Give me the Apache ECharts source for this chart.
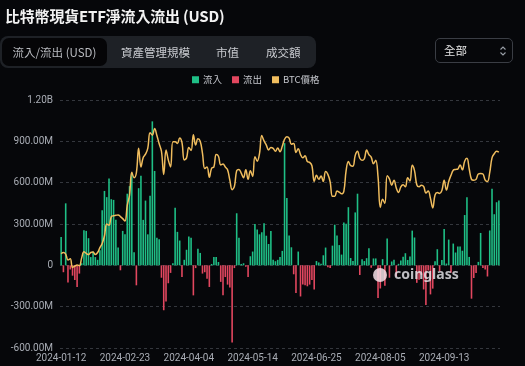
<!DOCTYPE html>
<html>
<head>
<meta charset="utf-8">
<script src="https://cdn.jsdelivr.net/npm/echarts@6/dist/echarts.min.js"></script>
<style>
  html, body { margin:0; padding:0; background:#06070a; width:525px; height:366px; overflow:hidden; }
  body { font-family: "Noto Sans CJK TC", "Noto Sans", sans-serif; }
  #chart { position:absolute; left:0; top:0; width:525px; height:366px; }
  .title { position:absolute; left:5px; top:5px; color:#f2f2f2; font-size:15px; font-weight:bold; white-space:nowrap; letter-spacing:-0.2px; }
  .tabs { position:absolute; left:0; top:36px; width:316px; height:32px; background:#1e2126; border-radius:8px; }
  .tab { position:absolute; top:0; height:32px; line-height:32px; font-size:11.5px; color:#c9cbd0; white-space:nowrap; }
  .tab.active { left:2px; top:2px; width:105px; height:28px; line-height:28px; background:#050507; border-radius:7px; color:#b9bbc0; text-align:center; }
  .select { position:absolute; left:435px; top:38px; width:78px; height:25px; border:1px solid #3a3d44; border-radius:5px; box-sizing:border-box; }
  .select span { position:absolute; left:8px; top:0; line-height:23px; font-size:11.5px; color:#e6e6e6; }
  .select svg { position:absolute; left:63px; top:6px; }
</style>
</head>
<body>
<div id="chart"></div>
<div class="title">比特幣現貨ETF淨流入流出 (USD)</div>
<div class="tabs">
  <div class="tab active">流入/流出 (USD)</div>
  <div class="tab" style="left:121px">資產管理規模</div>
  <div class="tab" style="left:216px">市值</div>
  <div class="tab" style="left:266px">成交額</div>
</div>
<div class="select"><span>全部</span>
  <svg width="8" height="12" viewBox="0 0 8 12"><path d="M1.5 4.5 L4 2 L6.5 4.5 M1.5 7.5 L4 10 L6.5 7.5" stroke="#9aa0a8" stroke-width="1.1" fill="none"/></svg>
</div>
<script>
const dates = [
'2024-01-12','2024-01-16','2024-01-17','2024-01-18','2024-01-19','2024-01-22','2024-01-23','2024-01-24','2024-01-25','2024-01-26','2024-01-29','2024-01-30','2024-01-31',
'2024-02-01','2024-02-02','2024-02-05','2024-02-06','2024-02-07','2024-02-08','2024-02-09','2024-02-12','2024-02-13','2024-02-14','2024-02-15','2024-02-16','2024-02-20','2024-02-21','2024-02-22','2024-02-23','2024-02-26','2024-02-27','2024-02-28','2024-02-29',
'2024-03-01','2024-03-04','2024-03-05','2024-03-06','2024-03-07','2024-03-08','2024-03-11','2024-03-12','2024-03-13','2024-03-14','2024-03-15','2024-03-18','2024-03-19','2024-03-20','2024-03-21','2024-03-22','2024-03-25','2024-03-26','2024-03-27','2024-03-28',
'2024-04-01','2024-04-02','2024-04-03','2024-04-04','2024-04-05','2024-04-08','2024-04-09','2024-04-10','2024-04-11','2024-04-12','2024-04-15','2024-04-16','2024-04-17','2024-04-18','2024-04-19','2024-04-22','2024-04-23','2024-04-24','2024-04-25','2024-04-26','2024-04-29','2024-04-30',
'2024-05-01','2024-05-02','2024-05-03','2024-05-06','2024-05-07','2024-05-08','2024-05-09','2024-05-10','2024-05-13','2024-05-14','2024-05-15','2024-05-16','2024-05-17','2024-05-20','2024-05-21','2024-05-22','2024-05-23','2024-05-24','2024-05-28','2024-05-29','2024-05-30','2024-05-31',
'2024-06-03','2024-06-04','2024-06-05','2024-06-06','2024-06-07','2024-06-10','2024-06-11','2024-06-12','2024-06-13','2024-06-14','2024-06-17','2024-06-18','2024-06-20','2024-06-21','2024-06-24','2024-06-25','2024-06-26','2024-06-27','2024-06-28',
'2024-07-01','2024-07-02','2024-07-03','2024-07-05','2024-07-08','2024-07-09','2024-07-10','2024-07-11','2024-07-12','2024-07-15','2024-07-16','2024-07-17','2024-07-18','2024-07-19','2024-07-22','2024-07-23','2024-07-24','2024-07-25','2024-07-26','2024-07-29','2024-07-30','2024-07-31',
'2024-08-01','2024-08-02','2024-08-05','2024-08-06','2024-08-07','2024-08-08','2024-08-09','2024-08-12','2024-08-13','2024-08-14','2024-08-15','2024-08-16','2024-08-19','2024-08-20','2024-08-21','2024-08-22','2024-08-23','2024-08-26','2024-08-27','2024-08-28','2024-08-29','2024-08-30',
'2024-09-03','2024-09-04','2024-09-05','2024-09-06','2024-09-09','2024-09-10','2024-09-11','2024-09-12','2024-09-13','2024-09-16','2024-09-17','2024-09-18','2024-09-19','2024-09-20','2024-09-23','2024-09-24','2024-09-25','2024-09-26','2024-09-27','2024-09-30',
'2024-10-01','2024-10-02','2024-10-03','2024-10-04','2024-10-07','2024-10-08','2024-10-09','2024-10-10','2024-10-11','2024-10-14','2024-10-15','2024-10-16','2024-10-17'
];

// Net flow, millions of USD
const netFlowM = [
205,-50,450,-125,-30,-75,-106,-158,-60,15,255,250,197,
60,100,60,40,110,400,540,495,630,480,475,330,130,-36,250,225,520,575,670,95,
-145,560,650,330,470,225,505,1045,685,200,190,-90,-326,-262,-130,-55,15,418,243,180,
-85,40,113,210,200,-218,-20,121,90,-60,-50,-97,-157,10,60,60,24,-120,-218,-85,-140,-160,
-560,-20,378,200,10,15,-10,-85,66,100,300,260,225,240,305,215,155,250,40,30,40,60,
105,887,488,217,131,-65,-200,100,-226,-140,-145,-152,-140,-106,-175,31,21,12,73,
129,-14,-20,143,295,216,147,78,310,301,422,53,31,384,520,-70,44,31,52,124,-18,50,
50,-237,-168,45,-148,195,-90,28,40,-81,11,35,62,88,39,64,252,202,-127,-105,-71,-175,
-288,-37,-211,-169,29,117,-43,39,263,13,187,-53,158,93,136,136,106,365,495,61,
-242,-92,-55,25,235,-19,-30,-81,253,555,371,458,470
];

// BTC price, USD
const btcPrice = [
42800,43100,42700,41300,41600,39500,39800,40100,39900,41800,43300,42900,42600,
43100,43200,42600,43100,44300,45300,47100,50000,49700,51800,52000,52100,52200,51800,51300,50700,54500,57000,62500,61200,
62400,68300,63800,66100,66900,68300,72100,71500,73100,71400,69400,67600,62000,67900,65500,63800,69900,69900,69500,70800,
69700,65500,66000,68500,67800,71600,69100,70600,70000,67100,63400,63800,61300,63500,63800,66800,66400,64300,64500,63800,63100,60600,
58300,59100,62900,63200,62300,61200,63100,60800,62900,61500,66300,65200,67000,71400,70100,69100,67900,68500,68300,67600,68400,67500,
68800,70500,71100,70800,69300,69500,67300,68200,66800,66000,66500,65100,64900,64100,60300,61800,60800,61600,60300,
62700,62000,60200,56700,56700,58000,57700,57300,57900,62900,65100,64100,64000,66600,67600,65900,65400,65800,67900,66800,66200,64600,
65400,61400,54000,56000,55000,61700,60900,59400,60600,58700,57600,59000,59500,59000,61200,60400,64200,62900,59500,59000,59400,59100,
57500,58000,56200,53900,57000,57600,57400,58100,60600,58200,60300,61800,63000,63200,63300,64300,63100,65200,65900,63300,
60800,60600,60800,62100,62200,62100,60600,60300,62500,66000,67000,67600,67400
];

const legendNames = ['流入', '流出', 'BTC價格'];
const yTicks = { min: -600, max: 1200, interval: 300 };

const inflow = netFlowM.map(v => v >= 0 ? v : '-');
const outflow = netFlowM.map(v => v < 0 ? v : '-');

function fmt(v) {
  if (v === 0) return '0';
  if (Math.abs(v) >= 1000) return (v / 1000).toFixed(2) + 'B';
  return v.toFixed(2) + 'M';
}

const chart = echarts.init(document.getElementById('chart'));
chart.setOption({
  backgroundColor: 'transparent',
  animation: false,
  legend: {
    data: legendNames,
    left: 187, top: 70,
    icon: 'rect', itemWidth: 7, itemHeight: 7, itemGap: 10,
    textStyle: { color: '#c4c6cc', fontSize: 9.5, fontFamily: 'Noto Sans CJK TC, Noto Sans, sans-serif', padding: [0,0,0,-1] }
  },
  grid: { left: 60, right: 25, top: 100, bottom: 18 },
  xAxis: {
    type: 'category',
    data: dates,
    boundaryGap: true,
    axisLine: { show: false, onZero: false },
    axisTick: { show: false },
    axisLabel: { interval: 27, color: '#a9adb5', fontSize: 10, fontFamily: 'Roboto', margin: 5 }
  },
  yAxis: [{
    type: 'value',
    min: yTicks.min, max: yTicks.max, interval: yTicks.interval,
    axisLine: { show: false }, axisTick: { show: false },
    axisLabel: { color: '#a9adb5', fontSize: 10, fontFamily: 'Roboto', margin: 7, formatter: fmt },
    splitLine: { lineStyle: { color: '#34373d', type: [3, 3], width: 1 } }
  }, {
    type: 'value', min: 20000, max: 80000, show: false, splitLine: { show: false }
  }],
  graphic: [{
    type: 'circle', left: 373, top: 268, shape: { r: 7 },
    style: { fill: 'rgba(245,225,232,0.85)' }, z: 100
  }, {
    type: 'text', left: 394, top: 268,
    style: { text: 'coinglass', fill: 'rgba(235,235,240,0.8)', font: 'bold 14px "Noto Sans", sans-serif' }, z: 100
  }],
  series: [{
    name: '流入', type: 'bar', data: inflow, barGap: '-100%', barCategoryGap: '30%',
    itemStyle: { color: '#1fbf86' }
  }, {
    name: '流出', type: 'bar', data: outflow, barGap: '-100%', barCategoryGap: '30%',
    itemStyle: { color: '#e2475f' }
  }, {
    name: 'BTC價格', type: 'line', yAxisIndex: 1, data: btcPrice, smooth: 0.4,
    symbol: 'none', itemStyle: { color: '#f0bd5e' }, lineStyle: { color: '#f0bd5e', width: 1.5 }, z: 5
  }]
});
</script>
</body>
</html>
